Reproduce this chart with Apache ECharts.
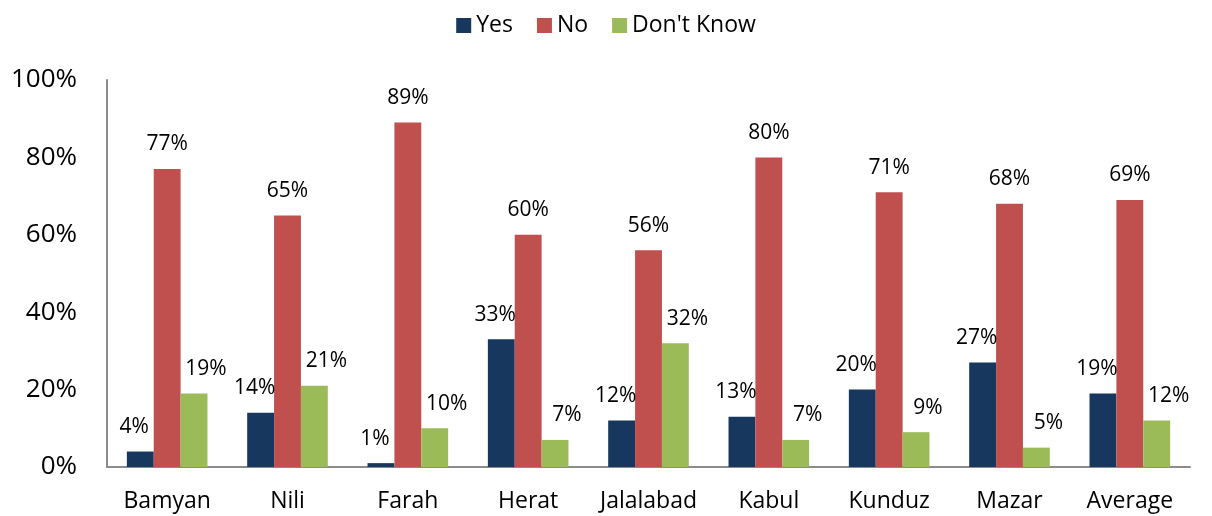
<!DOCTYPE html>
<html>
<head>
<meta charset="utf-8">
<script src="https://cdn.jsdelivr.net/npm/echarts@6/dist/echarts.min.js"></script>
<style>
  html, body { margin: 0; padding: 0; background: #fff; }
  #chart { width: 1212px; height: 516px; }
</style>
</head>
<body>
<div id="chart"></div>
<script>
// values, in percent
const cities = ['Bamyan', 'Nili', 'Farah', 'Herat', 'Jalalabad', 'Kabul', 'Kunduz', 'Mazar', 'Average']
const yes_values = [4, 14, 1, 33, 12, 13, 20, 27, 19]
const no_values = [77, 65, 89, 60, 56, 80, 71, 68, 69]
const dont_know_values = [19, 21, 10, 7, 32, 7, 9, 5, 12]
const series_names = ['Yes', 'No', "Don't Know"]

const font = '"Open Sans", "Noto Sans", sans-serif'
const chartDom = document.getElementById('chart')
const myChart = echarts.init(chartDom)

function makeSeries(name, data, color, offsetX) {
  return {
    name: name,
    type: 'bar',
    data: data,
    barGap: '0%',
    barCategoryGap: '33%',
    itemStyle: {color: color},
    label: {
      show: true,
      position: 'top',
      distance: 14,
      offset: [offsetX, 0],
      formatter: '{c}%',
      fontFamily: font,
      fontSize: 21,
      color: '#000'
    }
  }
}

const option = {
  animation: false,
  textStyle: {fontFamily: font},
  legend: {
    data: series_names,
    top: 9,
    left: 'center',
    itemWidth: 15,
    itemHeight: 15,
    itemGap: 24,
    icon: 'rect',
    textStyle: {fontFamily: font, fontSize: 23, color: '#000'}
  },
  grid: {
    left: 107,
    right: 22,
    top: 80,
    bottom: 49
  },
  xAxis: {
    type: 'category',
    data: cities,
    axisLine: {lineStyle: {color: '#8c8c8c', width: 2}},
    axisTick: {show: false},
    axisLabel: {interval: 0, fontFamily: font, fontSize: 23, color: '#000', margin: 23}
  },
  yAxis: {
    type: 'value',
    min: 0,
    max: 100,
    interval: 20,
    splitLine: {show: false},
    axisLine: {show: true, lineStyle: {color: '#8c8c8c', width: 2}},
    axisTick: {show: false},
    axisLabel: {fontFamily: font, fontSize: 26, color: '#000', margin: 30, formatter: '{value}%'}
  },
  series: [
    makeSeries(series_names[0], yes_values, '#17375e', -6),
    makeSeries(series_names[1], no_values, '#c0504d', 0),
    makeSeries(series_names[2], dont_know_values, '#9bbb59', 12)
  ]
}
option && myChart.setOption(option)
</script>
</body>
</html>
